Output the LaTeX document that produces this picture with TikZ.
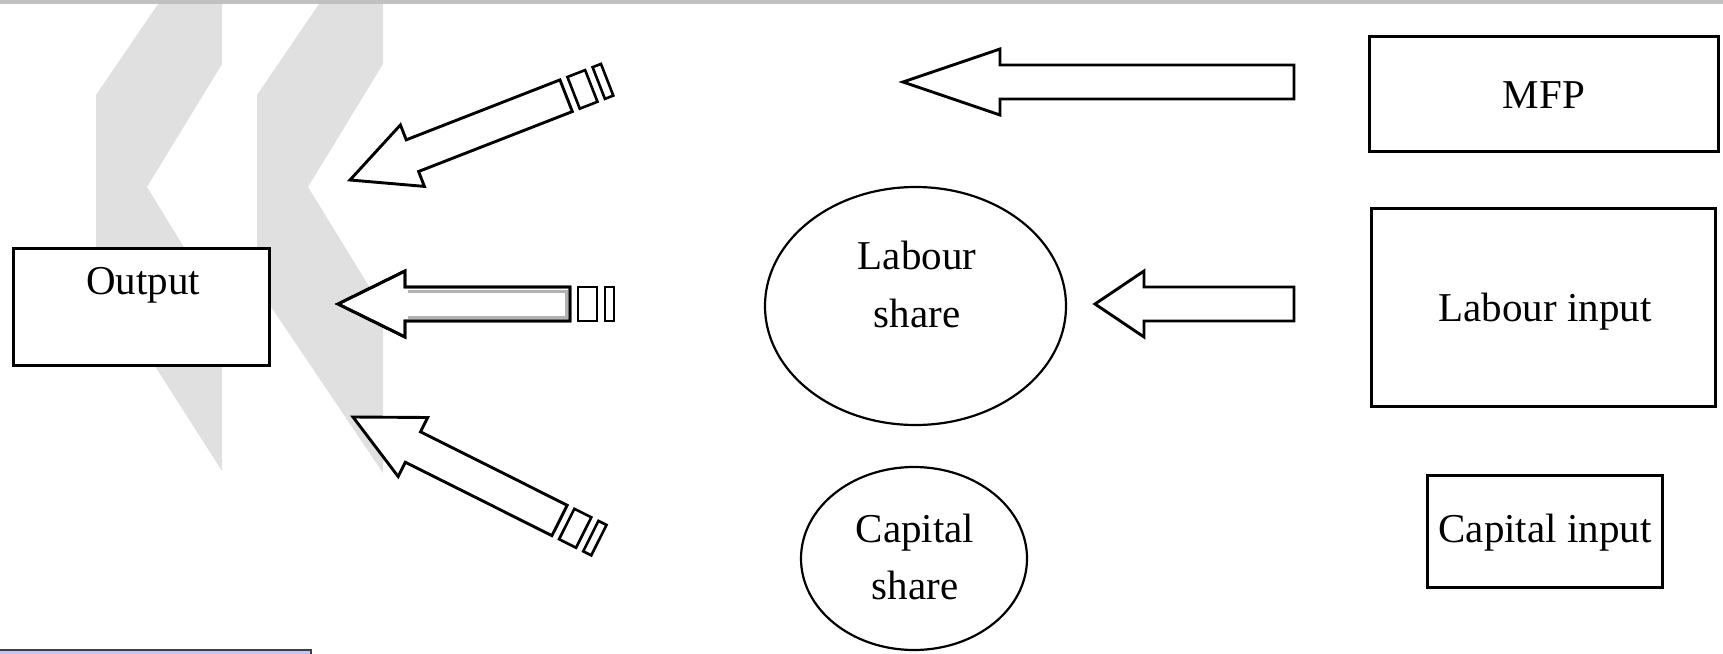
\documentclass[tikz,border=0pt]{standalone}
\usepackage{fontspec}
\setmainfont{Liberation Serif}
\usetikzlibrary{shapes.geometric}
\definecolor{wm}{RGB}{224,224,224}
\definecolor{topbar}{RGB}{192,192,192}
\definecolor{lav}{RGB}{196,196,236}
\tikzset{
 box/.style={draw=black, line width=3pt, fill=white, inner sep=0pt, outer sep=0pt},
 oval/.style={ellipse, draw=black, line width=2.2pt, fill=white, inner sep=0pt, outer sep=0pt},
 lbl/.style={inner sep=0pt, anchor=base, font=\fontsize{41}{41}\selectfont},
 blk/.style={draw=black, line width=2.9pt, fill=white, line join=miter, miter limit=10},
 stripe/.style={draw=black, line width=2.6pt, fill=white},
 shadeline/.style={draw=black!30, line width=3pt},
}
\newcommand\BlockArrow[5]{%
 \begin{scope}[shift={#1}, rotate=#2]
   \draw[blk] (0,0) -- (#3,33) -- (#3,17) -- (#4,17) -- (#4,-17) -- (#3,-17) -- (#3,-33) -- cycle;
   \ifnum#5>0
     \draw[stripe] ({#4+8},17) rectangle ({#4+27},-17);
     \draw[stripe] ({#4+35},17) rectangle ({#4+44},-17);
   \fi
 \end{scope}}
\begin{document}
\begin{tikzpicture}[x=1pt,y=-1pt]
\useasboundingbox (0,0) rectangle (1723,653);
\fill[white] (0,0) rectangle (1723,653);
\fill[topbar] (0,0) rectangle (1723,4);
% watermark chevrons
\fill[wm] (158,4) -- (222,4) -- (222,64) -- (147,187) -- (222,309) -- (222,471) -- (96,274) -- (96,95) -- cycle;
\fill[wm] (319,4) -- (383,4) -- (383,64) -- (308,187) -- (383,309) -- (383,473) -- (257,286) -- (257,95) -- cycle;
% block arrows
\BlockArrow{(350,180)}{21.3}{67}{232}{1}
\BlockArrow{(338,304)}{0}{67}{232}{1}
\draw[shadeline] (408,291) -- (566,291) -- (566,317) -- (408,317);
\draw[blk,fill=none] (338,304) -- (405,271) -- (405,287) -- (570,287) -- (570,321) -- (405,321) -- (405,337) -- cycle;
\BlockArrow{(353,417)}{-26.6}{67}{231}{1}
\BlockArrow{(903,82)}{0}{97}{391}{0}
\BlockArrow{(1095,304)}{0}{49}{199}{0}
% boxes
\node[box, minimum width=256pt, minimum height=117pt] (out) at (141,306.5) {};
\node[box, minimum width=349pt, minimum height=115pt] (mfp) at (1543.5,93.5) {};
\node[box, minimum width=344pt, minimum height=198pt] (lin) at (1543,307) {};
\node[box, minimum width=235pt, minimum height=112pt] (cin) at (1544.5,531) {};
\node[oval, minimum width=301pt, minimum height=238pt] (lsh) at (915.5,306) {};
\node[oval, minimum width=226pt, minimum height=183pt] (csh) at (914,558.5) {};
% labels
\node[lbl] (outt) at (143,294) {Output};
\node[lbl] (mfpt) at (1544,108) {MFP};
\node[lbl] (lint) at (1545,321) {Labour input};
\node[lbl] (cint) at (1545,542) {Capital input};
\node[lbl] (lsh1) at (917,269) {Labour};
\node[lbl] (lsh2) at (917,327) {share};
\node[lbl] (csh1) at (915,542) {Capital};
\node[lbl] (csh2) at (915,599) {share};
% bottom-left bar
\draw[draw=black!75, fill=lav, line width=1.5pt] (-2,650) rectangle (311,662);
\end{tikzpicture}
\end{document}
